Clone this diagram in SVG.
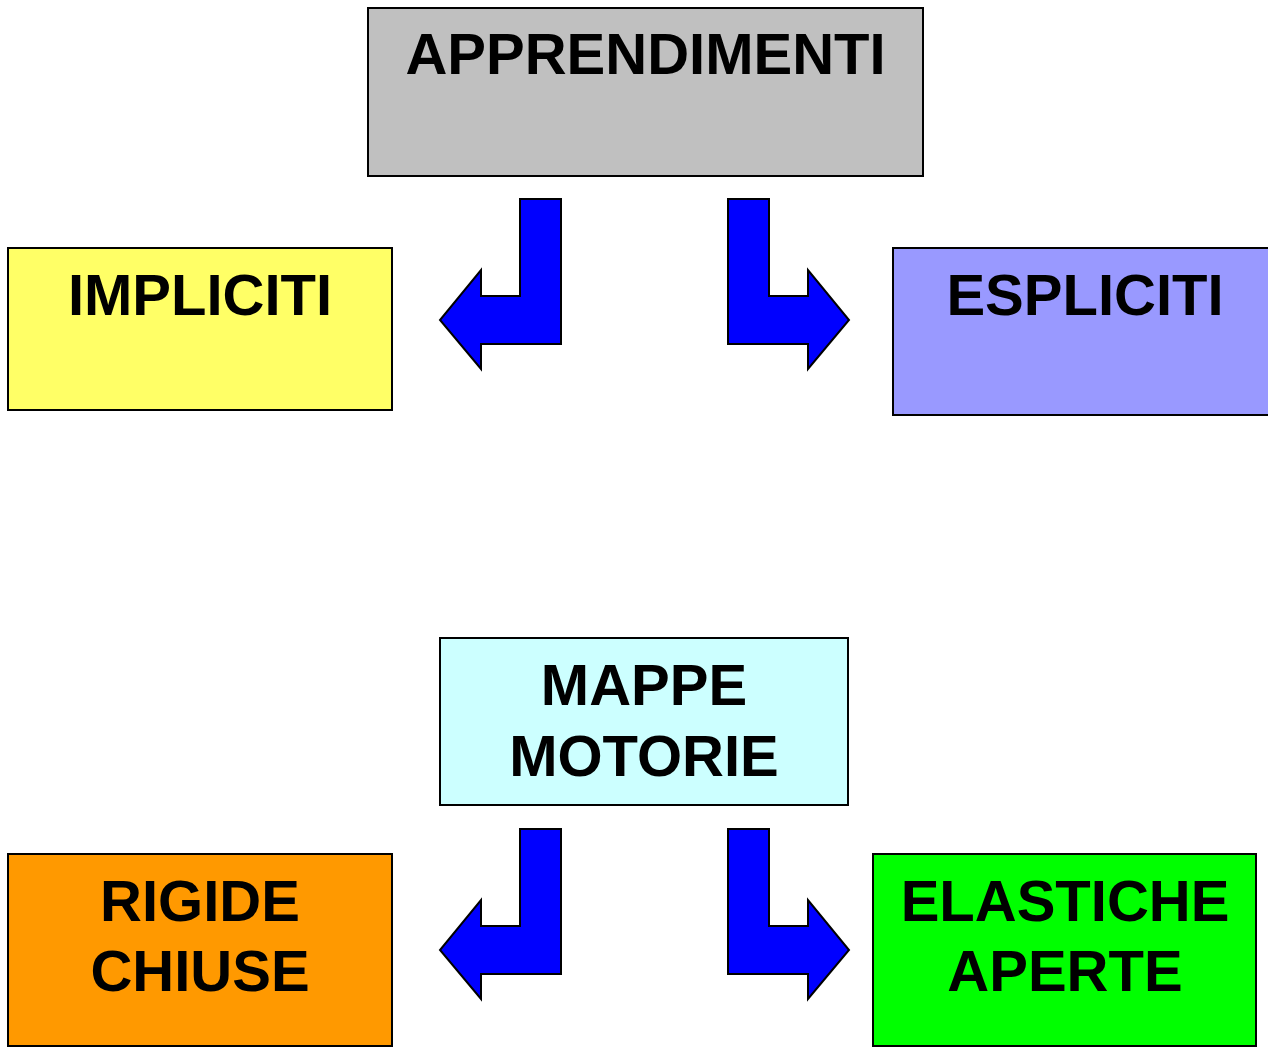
<svg xmlns="http://www.w3.org/2000/svg" width="1268" height="1052" viewBox="0 0 1268 1052">
<defs>
<style>
.box{stroke:#000;stroke-width:2}
.t{font-family:"Liberation Sans",Arial,sans-serif;font-weight:bold;font-size:58px;fill:#000;text-anchor:middle}
.arr{fill:#0000FF;stroke:#000;stroke-width:2;stroke-linejoin:miter}
</style>
<path id="arrL" d="M520,199 H561 V344 H481 V369 L440,320 L481,270 V296 H520 Z"/>
<path id="arrR" d="M728,199 H769 V296 H808 V270 L849,320 L808,369 V344 H728 Z"/>
</defs>
<rect width="1268" height="1052" fill="#fff"/>
<g id="apprendimenti">
<rect class="box" x="368" y="8" width="555" height="168" fill="#C0C0C0"/>
<text class="t" x="645.5" y="74">APPRENDIMENTI</text>
</g>
<g id="impliciti">
<rect class="box" x="8" y="248" width="384" height="162" fill="#FFFF66"/>
<text class="t" x="200" y="315">IMPLICITI</text>
</g>
<g id="espliciti">
<rect class="box" x="893" y="248" width="385" height="167" fill="#9999FF"/>
<text class="t" x="1085" y="315">ESPLICITI</text>
</g>
<g id="mappe">
<rect class="box" x="440" y="638" width="408" height="167" fill="#CCFFFF"/>
<text class="t" x="644" y="705">MAPPE</text>
<text class="t" x="644" y="776">MOTORIE</text>
</g>
<g id="rigide">
<rect class="box" x="8" y="854" width="384" height="192" fill="#FF9900"/>
<text class="t" x="200" y="921">RIGIDE</text>
<text class="t" x="200" y="991">CHIUSE</text>
</g>
<g id="elastiche">
<rect class="box" x="873" y="854" width="383" height="192" fill="#00FF00"/>
<text class="t" x="1065" y="921">ELASTICHE</text>
<text class="t" x="1065" y="991">APERTE</text>
</g>
<g id="connectors">
<use href="#arrL" class="arr"/>
<use href="#arrR" class="arr"/>
<use href="#arrL" class="arr" transform="translate(0,630)"/>
<use href="#arrR" class="arr" transform="translate(0,630)"/>
</g>
</svg>
